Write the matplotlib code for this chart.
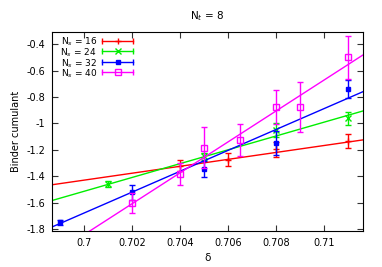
import numpy as np
import matplotlib
matplotlib.use("Agg")
import matplotlib.pyplot as plt

# data
labels = ["16", "24", "32", "40"]
colors = ["#ff0000", "#00ee00", "#0000ff", "#ff00ff"]
markers = ["+", "x", "s", "s"]
fills = [True, True, True, False]

x16 = [0.704, 0.706, 0.708, 0.711]
y16 = [-1.32, -1.275, -1.195, -1.132]
e16 = [0.04, 0.05, 0.057, 0.054]

x24 = [0.701, 0.705, 0.708, 0.711]
y24 = [-1.459, -1.25, -1.049, -0.96]
e24 = [0.025, 0.03, 0.054, 0.05]

x32 = [0.699, 0.702, 0.705, 0.708, 0.711]
y32 = [-1.749, -1.522, -1.343, -1.149, -0.74]
e32 = [0.02, 0.057, 0.06, 0.088, 0.065]

x40 = [0.702, 0.704, 0.705, 0.7065, 0.708, 0.709, 0.711]
y40 = [-1.602, -1.382, -1.183, -1.125, -0.873, -0.873, -0.5]
e40 = [0.075, 0.08, 0.155, 0.12, 0.128, 0.19, 0.164]

# linear fits: value at delta = 0.705 and slope
fit_at705 = [-1.298, -1.252, -1.283, -1.257]
fit_slope = [26.2, 52.3, 79.0, 117.0]

xs = [x16, x24, x32, x40]
ys = [y16, y24, y32, y40]
es = [e16, e24, e32, e40]

xlim = (0.69867, 0.71161)
ylim = (-1.813, -0.307)

fig = plt.figure(figsize=(3.82, 2.67), dpi=100)
ax = fig.add_axes([0.136, 0.135, 0.8135, 0.746])

xx = np.linspace(xlim[0], xlim[1], 50)
key_y = []
for i in range(4):
    c = colors[i]
    ms = 5 if markers[i] in "+x" else (3.5 if fills[i] else 4.5)
    mfc = c if fills[i] else "none"
    ax.plot(xx, fit_at705[i] + fit_slope[i] * (xx - 0.705), color=c, lw=1.0)
    ax.errorbar(xs[i], ys[i], yerr=es[i], fmt="none", ecolor=c, elinewidth=1.0,
                capsize=2, capthick=1.0)
    ax.plot(xs[i], ys[i], ls="none", marker=markers[i], color=c, ms=ms, mew=1.0,
            mfc=mfc)

    # gnuplot style key samples
    ty = 0.953 - i * 0.052
    key_y.append(ty)
    ax.plot([0.161, 0.261], [ty, ty], transform=ax.transAxes, color=c, lw=1.0)
    ax.plot([0.161, 0.261], [ty, ty], transform=ax.transAxes, color=c, ls="none",
            marker="|", ms=5, mew=1.0)
    ax.plot([0.211], [ty], transform=ax.transAxes, color=c, ls="none",
            marker=markers[i], ms=ms, mew=1.0, mfc=mfc)

# key labels as one block so rows sit tight like gnuplot's
key_text = "\n".join("N$_s$ = " + lab for lab in labels)
ax.text(0.145, np.mean(key_y) - 0.006, key_text, transform=ax.transAxes, ha="right",
        va="center", multialignment="right", fontsize=6.5, linespacing=0.82)

ax.set_xlim(*xlim)
ax.set_ylim(*ylim)
ax.set_xticks([0.7, 0.702, 0.704, 0.706, 0.708, 0.71])
ax.set_xticklabels(["0.7", "0.702", "0.704", "0.706", "0.708", "0.71"])
ax.set_yticks([-0.4, -0.6, -0.8, -1.0, -1.2, -1.4, -1.6, -1.8])
ax.set_yticklabels(["-0.4", "-0.6", "-0.8", "-1", "-1.2", "-1.4", "-1.6", "-1.8"])
ax.tick_params(direction="in", top=True, right=True, length=4, width=0.8,
               labelsize=7, pad=5, color="#333333")
for s in ax.spines.values():
    s.set_linewidth(0.8)

ax.set_title("N$_t$ = 8", fontsize=7.5, pad=9)
ax.set_xlabel("δ", fontsize=7.5, labelpad=4)
ax.set_ylabel("Binder cumulant", fontsize=7, labelpad=4)

fig.savefig("out.png", dpi=100)
